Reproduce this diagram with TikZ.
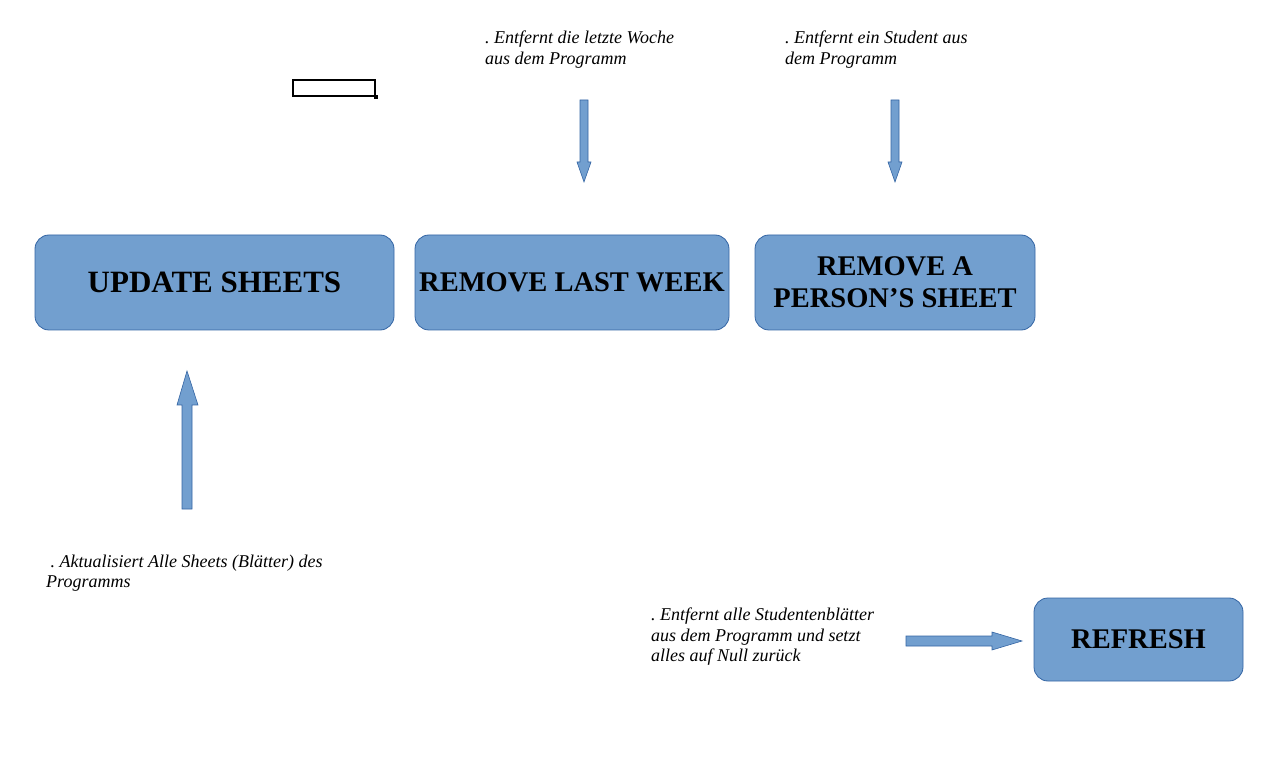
\documentclass[tikz,border=0pt]{standalone}
\usepackage{fontspec}
\setmainfont{Liberation Serif}
\definecolor{boxfill}{HTML}{729FCF}
\definecolor{boxline}{HTML}{3465A4}
\frenchspacing
\begin{document}
\begin{tikzpicture}[x=1pt,y=-1pt,
  procbox/.style={draw=boxline,fill=boxfill,rounded corners=14pt,line width=0.8pt,inner sep=0pt,align=center,
    font=\fontsize{28.5}{32}\selectfont\bfseries},
  note/.style={anchor=north west,inner sep=0pt,align=left,font=\fontsize{18}{20.3}\selectfont\itshape},
  blockarrow/.style={draw=boxline,fill=boxfill,line width=0.6pt,line join=miter}]
\useasboundingbox (0,0) rectangle (1278,759);
% boxes
\node[procbox,minimum width=359pt,minimum height=95pt,font=\fontsize{31}{34}\selectfont\bfseries] (upd) at (214.5,282.5) {UPDATE SHEETS};
\node[procbox,minimum width=314pt,minimum height=95pt] (rlw) at (572,282.5) {REMOVE LAST WEEK};
\node[procbox,minimum width=280pt,minimum height=95pt] (rps) at (895,282.5) {REMOVE A\\PERSON’S SHEET};
\node[procbox,minimum width=209pt,minimum height=83pt] (ref) at (1138.5,639.5) {REFRESH};
% notes
\node[note] (n1) at (485,31) {. Entfernt die letzte Woche\\aus dem Programm};
\node[note] (n2) at (785,31) {. Entfernt ein Student aus\\dem Programm};
\node[note] (n3) at (46,555) {\ . Aktualisiert Alle Sheets (Blätter) des\\Programms};
\node[note] (n4) at (651,608) {. Entfernt alle Studentenblätter\\aus dem Programm und setzt\\alles auf Null zurück};
% small rectangle
\node[draw=black,line width=1.4pt,minimum width=82pt,minimum height=16pt,inner sep=0pt] (sr) at (334,88) {};
\fill[black] (sr.south east) ++(-2,-2) rectangle ++(4,4);
% block arrows
\draw[blockarrow] (580,100) -- (588,100) -- (588,162) -- (591,162) -- (584,182) -- (577,162) -- (580,162) -- cycle;
\draw[blockarrow] (891,100) -- (899,100) -- (899,162) -- (902,162) -- (895,182) -- (888,162) -- (891,162) -- cycle;
\draw[blockarrow] (182,509) -- (192,509) -- (192,405) -- (198,405) -- (187,371) -- (177,405) -- (182,405) -- cycle;
\draw[blockarrow] (906,636) -- (992,636) -- (992,632) -- (1022,641) -- (992,650) -- (992,646) -- (906,646) -- cycle;
\end{tikzpicture}
\end{document}
